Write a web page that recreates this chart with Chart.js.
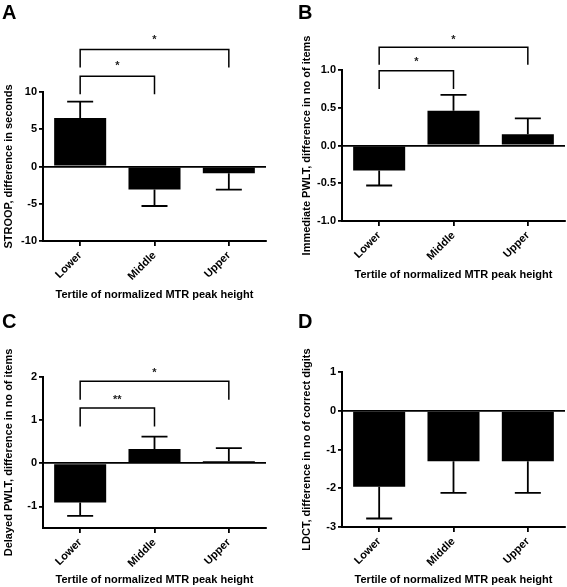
<!DOCTYPE html>
<html>
<head>
<meta charset="utf-8">
<script src="https://cdn.jsdelivr.net/npm/chart.js@4.4.0/dist/chart.umd.min.js"></script>
<style>
  html, body { margin: 0; padding: 0; background: #fff; overflow: hidden; }
  #wrap { position: relative; width: 567px; height: 587px; }
  canvas { position: absolute; }
</style>
</head>
<body>
<div id="wrap">
  <canvas id="chartA" width="284" height="304" style="left:0;top:0"></canvas>
  <canvas id="chartB" width="284" height="300" style="left:283px;top:0"></canvas>
  <canvas id="chartC" width="284" height="294" style="left:0;top:293px"></canvas>
  <canvas id="chartD" width="284" height="294" style="left:283px;top:293px"></canvas>
</div>
<script>
'use strict';

// tertile groups
var categories = ['Lower', 'Middle', 'Upper'];
var xTitle = 'Tertile of normalized MTR peak height';

// A - STROOP (mean and end of the SEM bar)
var stroopMean = [6.5, -3.1, -0.9];
var stroopErr = [8.7, -5.3, -3.1];
var stroopTicks = [-10, -5, 0, 5, 10];
var stroopPairs = [[0, 1], [0, 2]];
var stroopLevels = [12.1, 15.7];
var stroopLegs = [9.7, 13.3];
var stroopStars = ['*', '*'];
var stroopStarY = [13.8, 17.2];

// B - immediate PWLT
var immMean = [-0.33, 0.46, 0.15];
var immErr = [-0.53, 0.67, 0.36];
var immTicks = [-1, -0.5, 0, 0.5, 1];
var immPairs = [[0, 1], [0, 2]];
var immLevels = [0.99, 1.30];
var immLegs = [0.75, 1.07];
var immStars = ['*', '*'];
var immStarY = [1.13, 1.42];

// C - delayed PWLT
var delMean = [-0.91, 0.33, 0.05];
var delErr = [-1.22, 0.62, 0.35];
var delTicks = [-1, 0, 1, 2];
var delPairs = [[0, 1], [0, 2]];
var delLevels = [1.28, 1.90];
var delLegs = [0.85, 1.47];
var delStars = ['**', '*'];
var delStarY = [1.51, 2.13];

// D - LDCT
var ldctMean = [-1.96, -1.30, -1.30];
var ldctErr = [-2.78, -2.12, -2.12];
var ldctTicks = [-3, -2, -1, 0, 1];

var FONT = '"Liberation Sans", Arial, Helvetica, sans-serif';

// draws the one sided SEM bars with caps
var errorBars = {
  id: 'errorBars',
  afterDatasetsDraw: function (chart) {
    var ctx = chart.ctx;
    var y = chart.scales.y;
    var ds = chart.data.datasets[0];
    var meta = chart.getDatasetMeta(0);
    ctx.save();
    ctx.strokeStyle = '#000';
    ctx.lineWidth = 1.8;
    meta.data.forEach(function (bar, i) {
      var y0 = y.getPixelForValue(ds.data[i]);
      var y1 = y.getPixelForValue(ds.errorTo[i]);
      ctx.beginPath();
      ctx.moveTo(bar.x, y0);
      ctx.lineTo(bar.x, y1);
      ctx.moveTo(bar.x - 13, y1);
      ctx.lineTo(bar.x + 13, y1);
      ctx.stroke();
    });
    ctx.restore();
  }
};

// panel letter + significance brackets
function extrasPlugin(letter, letterX, letterY, pairs, levels, legs, stars, starY) {
  return {
    id: 'extras',
    afterDraw: function (chart) {
      var ctx = chart.ctx;
      var x = chart.scales.x, y = chart.scales.y;
      ctx.save();
      ctx.fillStyle = '#000';
      ctx.font = 'bold 20px ' + FONT;
      ctx.textAlign = 'left';
      ctx.textBaseline = 'alphabetic';
      ctx.fillText(letter, letterX, letterY);

      ctx.strokeStyle = '#000';
      ctx.lineWidth = 1.5;
      ctx.fillStyle = '#222';
      ctx.font = 'bold 11px ' + FONT;
      ctx.textAlign = 'center';
      ctx.textBaseline = 'middle';
      (pairs || []).forEach(function (p, i) {
        var xa = x.getPixelForValue(p[0]);
        var xb = x.getPixelForValue(p[1]);
        var yl = y.getPixelForValue(levels[i]);
        var yg = y.getPixelForValue(legs[i]);
        ctx.beginPath();
        ctx.moveTo(xa, yg);
        ctx.lineTo(xa, yl);
        ctx.lineTo(xb, yl);
        ctx.lineTo(xb, yg);
        ctx.stroke();
        ctx.fillText(stars[i], (xa + xb) / 2, y.getPixelForValue(starY[i]) + 2);
      });
      ctx.restore();
    }
  };
}

function makePanel(id, p) {
  var tickFont = { family: FONT, size: 11, weight: 'bold' };
  return new Chart(document.getElementById(id), {
    type: 'bar',
    data: {
      labels: categories,
      datasets: [{
        data: p.mean,
        errorTo: p.err,
        backgroundColor: '#000',
        borderWidth: 0,
        barPercentage: 0.7,
        categoryPercentage: 1.0
      }]
    },
    options: {
      responsive: false,
      animation: false,
      layout: { padding: { top: p.top, right: p.right, left: 0, bottom: 0 } },
      plugins: { legend: { display: false }, tooltip: { enabled: false } },
      scales: {
        x: {
          offset: true,
          border: { display: true, color: '#000', width: 2 },
          grid: { display: true, drawOnChartArea: false, offset: false, tickLength: 5, tickColor: '#000', lineWidth: 1.8 },
          ticks: { color: '#000', font: tickFont, minRotation: 45, maxRotation: 45, autoSkip: false, padding: 3 },
          title: { display: true, text: xTitle, color: '#000', font: tickFont, padding: { top: 0, bottom: p.xTitlePad } },
          afterFit: function (s) { s.height = p.xHeight; }
        },
        y: {
          min: p.min,
          max: p.max,
          border: { display: true, color: '#000', width: 2 },
          grid: {
            drawOnChartArea: true,
            tickLength: 4,
            tickColor: '#000',
            lineWidth: 1.8,
            color: function (c) { return c.tick && c.tick.value === 0 ? '#000' : 'rgba(0,0,0,0)'; }
          },
          ticks: {
            color: '#000',
            font: tickFont,
            padding: 2,
            callback: function (v) { return p.decimals ? v.toFixed(p.decimals) : String(v); }
          },
          afterBuildTicks: function (s) { s.ticks = p.ticks.map(function (v) { return { value: v }; }); },
          title: { display: true, text: p.yTitle, color: '#000', font: tickFont, padding: { top: p.yTitlePad, bottom: 0 } },
          afterFit: function (s) { s.width = p.yWidth; }
        }
      }
    },
    plugins: [errorBars, extrasPlugin(p.letter, p.letterX, p.letterY, p.pairs, p.levels, p.legs, p.stars, p.starY)]
  });
}

makePanel('chartA', {
  mean: stroopMean, err: stroopErr, ticks: stroopTicks, min: -10, max: 10, decimals: 0,
  yTitle: 'STROOP, difference in seconds',
  pairs: stroopPairs, levels: stroopLevels, legs: stroopLegs, stars: stroopStars, starY: stroopStarY,
  letter: 'A', letterX: 2, letterY: 19,
  top: 92, right: 18, yWidth: 43, xHeight: 63, xTitlePad: 2, yTitlePad: 2
});

makePanel('chartB', {
  mean: immMean, err: immErr, ticks: immTicks, min: -1, max: 1, decimals: 1,
  yTitle: 'Immediate PWLT, difference in no of items',
  pairs: immPairs, levels: immLevels, legs: immLegs, stars: immStars, starY: immStarY,
  letter: 'B', letterX: 15, letterY: 19,
  top: 70, right: 2, yWidth: 59, xHeight: 79, xTitlePad: 18, yTitlePad: 17
});

makePanel('chartC', {
  mean: delMean, err: delErr, ticks: delTicks, min: -1.5, max: 2, decimals: 0,
  yTitle: 'Delayed PWLT, difference in no of items',
  pairs: delPairs, levels: delLevels, legs: delLegs, stars: delStars, starY: delStarY,
  letter: 'C', letterX: 2, letterY: 35,
  top: 84, right: 18, yWidth: 43, xHeight: 59, xTitlePad: 0, yTitlePad: 2
});

makePanel('chartD', {
  mean: ldctMean, err: ldctErr, ticks: ldctTicks, min: -3, max: 1, decimals: 0,
  yTitle: 'LDCT, difference in no of correct digits',
  letter: 'D', letterX: 15, letterY: 35,
  top: 79, right: 2, yWidth: 59, xHeight: 60, xTitlePad: 0, yTitlePad: 17
});
</script>
</body>
</html>
